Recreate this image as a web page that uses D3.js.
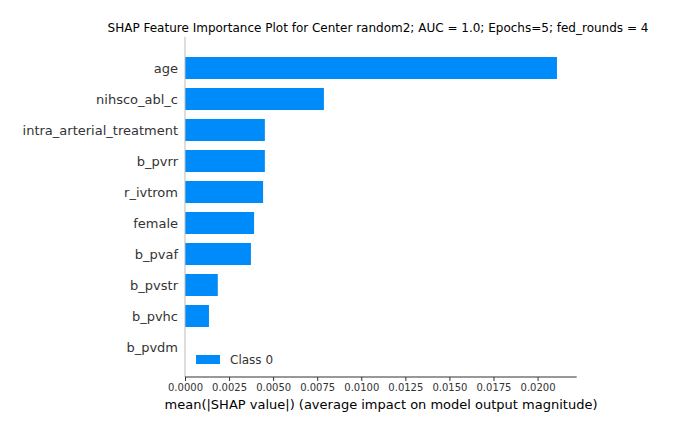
<!DOCTYPE html>
<html>
<head>
<meta charset="utf-8">
<script src="https://cdn.jsdelivr.net/npm/d3@7"></script>
<style>
  body { margin: 0; background: #fff; }
  text { font-family: "DejaVu Sans", sans-serif; }
</style>
</head>
<body>
<div id="chart"></div>
<script>
const features = ['age', 'nihsco_abl_c', 'intra_arterial_treatment', 'b_pvrr', 'r_ivtrom',
    'female', 'b_pvaf', 'b_pvstr', 'b_pvhc', 'b_pvdm'];
const importance = [0.0211, 0.00788, 0.00453, 0.00453, 0.00443, 0.00392, 0.00374, 0.00186, 0.00136, 0];
const xTicks = [0, 0.0025, 0.005, 0.0075, 0.01, 0.0125, 0.015, 0.0175, 0.02];
const seriesName = 'Class 0';

const width = 674, height = 433;
const plot = { left: 185, right: 576.7, top: 37, bottom: 377 };
const color = '#008bfb';

const svg = d3.select('#chart').append('svg')
    .attr('width', width)
    .attr('height', height);

const x = d3.scaleLinear()
    .domain([0, 0.02222])
    .range([plot.left, plot.right]);

// rows are 31px apart, first centre at 68
const y = d3.scaleBand()
    .domain(features)
    .range([52.5, 362.5])
    .paddingInner(0.29)
    .paddingOuter(0.145);

svg.selectAll('rect.bar')
    .data(features)
    .join('rect')
    .attr('class', 'bar')
    .attr('x', x(0))
    .attr('y', d => y(d))
    .attr('width', (d, i) => x(importance[i]) - x(0))
    .attr('height', y.bandwidth())
    .attr('fill', color);

// left spine
svg.append('line')
    .attr('x1', plot.left).attr('x2', plot.left)
    .attr('y1', plot.top).attr('y2', plot.bottom)
    .attr('stroke', '#bbb')
    .attr('stroke-width', 1);

// y labels
svg.selectAll('text.ylab')
    .data(features)
    .join('text')
    .attr('class', 'ylab')
    .attr('x', 178)
    .attr('y', d => y(d) + y.bandwidth() / 2)
    .attr('dy', '0.35em')
    .attr('text-anchor', 'end')
    .style('font-size', '13px')
    .style('fill', '#333')
    .text(d => d);

// x axis
const xAxis = svg.append('g')
    .attr('transform', `translate(0,${plot.bottom})`)
    .call(d3.axisBottom(x).tickValues(xTicks).tickFormat(d3.format('.4f')).tickSizeOuter(0).tickSize(4));
xAxis.select('.domain').attr('stroke', '#333').attr('stroke-width', 1.2)
    .attr('d', `M${plot.left},0H${plot.right}`);
xAxis.selectAll('.tick line').attr('stroke', '#333');
xAxis.selectAll('.tick text')
    .attr('y', 7)
    .style('font-family', '"DejaVu Sans", sans-serif')
    .style('font-size', '10px')
    .style('fill', '#333');

svg.append('text')
    .attr('x', 381)
    .attr('y', 409)
    .attr('text-anchor', 'middle')
    .style('font-size', '13px')
    .style('fill', '#000')
    .text('mean(|SHAP value|) (average impact on model output magnitude)');

svg.append('text')
    .attr('x', 378)
    .attr('y', 32)
    .attr('text-anchor', 'middle')
    .style('font-size', '12px')
    .style('fill', '#000')
    .text('SHAP Feature Importance Plot for Center random2; AUC = 1.0; Epochs=5; fed_rounds = 4');

// legend
svg.append('rect')
    .attr('x', 196).attr('y', 355)
    .attr('width', 24).attr('height', 9)
    .attr('fill', color);
svg.append('text')
    .attr('x', 230).attr('y', 360)
    .attr('dy', '0.35em')
    .style('font-size', '12px')
    .style('fill', '#333')
    .text(seriesName);
</script>
</body>
</html>
